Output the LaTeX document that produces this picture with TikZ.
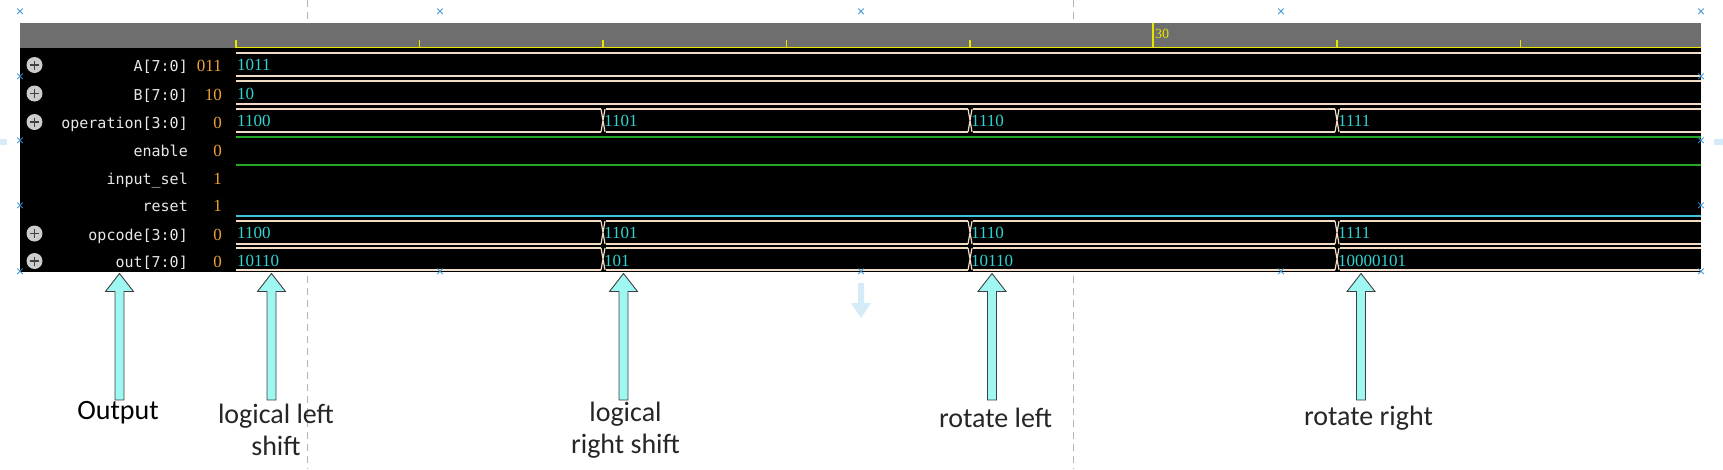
\documentclass[tikz,border=0pt]{standalone}
\usepackage{fontspec}
\setmainfont{Carlito}
\newfontfamily\sigmono{DejaVu Sans Mono}
\newfontfamily\sigserif{Liberation Serif}
\usetikzlibrary{calc}
\definecolor{hdrgray}{HTML}{6E6E6E}
\definecolor{rulery}{HTML}{E6E600}
\definecolor{nametxt}{HTML}{E8E8E8}
\definecolor{valorange}{HTML}{F0A238}
\definecolor{valcyan}{HTML}{30D2D2}
\definecolor{busbeige}{HTML}{F2DCC6}
\definecolor{lowgreen}{HTML}{22A822}
\definecolor{rstcyan}{HTML}{3CC4DA}
\definecolor{arrowfill}{HTML}{9EF7F0}
\definecolor{handleblue}{HTML}{3592D6}
\definecolor{handlefaint}{HTML}{D6EBF8}
\tikzset{signame/.style = {anchor=base east,inner sep=0pt,text=nametxt,font=\sigmono\fontsize{15}{18}\selectfont}}
\tikzset{sigval/.style = {anchor=base east,inner sep=0pt,text=valorange,font=\sigserif\fontsize{17}{20}\selectfont}}
\tikzset{busval/.style = {anchor=base west,inner sep=0pt,text=valcyan,font=\sigserif\fontsize{17}{20}\selectfont}}
\tikzset{busline/.style = {draw=busbeige,line width=1.6pt}}
\tikzset{expander/.style = {circle,fill=black!20,minimum size=16pt,inner sep=0pt}}
\tikzset{ruler/.style = {draw=rulery,line width=1.4pt}}
\tikzset{blockarrow/.style = {fill=arrowfill,draw=black!75,line width=0.9pt,line join=miter}}
\tikzset{caption/.style = {inner sep=0pt,text=black!85,font=\fontsize{28}{32}\selectfont}}
\tikzset{handle/.style = {inner sep=0pt,text=handleblue,font=\fontsize{15}{15}\selectfont}}
\tikzset{pageguide/.style = {draw=black!30,line width=1pt,dash pattern=on 7pt off 5pt}}

\begin{document}
\begin{tikzpicture}[x=1pt,y=-1pt]
  \useasboundingbox (0,0) rectangle (1723,469);

  \foreach \x in {307,1073}
    \draw[pageguide] (\x,0) -- (\x,469);

  % viewer window
  \fill[hdrgray] (20,22.5) rectangle (1701,48);
  \fill[black] (20,48) rectangle (1701,271.5);
  \draw[ruler] (236,40) -- (236,47.5) -- (1701,47.5);
  \foreach \x in {419.5,603,786.5,970,1337,1520.5}
    \draw[ruler] (\x,40) -- (\x,47.5);
  \draw[ruler] (1153,23) -- (1153,47.5);
  \node[anchor=west,inner sep=0pt,text=rulery,font=\sigserif\fontsize{14}{14}\selectfont] (t30) at (1155,33.5) {30};

  \foreach \i/\nm/\v/\b in {1/A[7:0]/011/71.5,2/B[7:0]/10/100,3/operation[3:0]/0/128.5,
      4/enable/0/156.5,5/input\_sel/1/184.5,6/reset/1/211.5,7/opcode[3:0]/0/240,8/out[7:0]/0/267.5} {
    \node[signame] (nm\i) at (188,\b) {\nm};
    \node[sigval] (sv\i) at (222,\b) {\v};
  }
  \foreach \i/\b in {1/71.5,2/100,3/128.5,7/240,8/267.5} {
    \node[expander] (ex\i) at (34.5,\b-6.5) {};
    \draw[black!75,line width=1.2pt] ($(ex\i)+(-4.5,0)$) -- ($(ex\i)+(4.5,0)$)
      ($(ex\i)+(0,-4.5)$) -- ($(ex\i)+(0,4.5)$);
  }

  % buses
  \foreach \yt/\yb in {53/76,81/104}
    \draw[busline] (236,\yt) -- (1701,\yt) (236,\yb) -- (1701,\yb);
  \foreach \yt/\yb in {109/132,221/244,248/270} {
    \draw[busline] (236,\yt) -- (1701,\yt) (236,\yb) -- (1701,\yb);
    \foreach \x in {603,970,1337} {
      \fill[black] (\x-2.5,\yt-1.5) rectangle (\x+2.5,\yb+1.5);
      \draw[busline,line width=1.2pt] (\x-2,\yt) -- (\x+2,\yb) (\x-2,\yb) -- (\x+2,\yt);
    }
  }
  \draw[lowgreen,line width=1.4pt] (236,137) -- (1701,137);
  \draw[lowgreen,line width=1.4pt] (236,165) -- (1701,165);
  \draw[rstcyan,line width=1.8pt] (236,216) -- (1701,216);

  \node[busval] (wa) at (237,70.5) {1011};
  \node[busval] (wb) at (237,99) {10};
  \foreach \r/\b in {op/126.5,oc/238.5}
    \foreach \j/\x/\v in {0/237/1100,1/604/1101,2/971/1110,3/1338/1111}
      \node[busval] (\r\j) at (\x,\b) {\v};
  \foreach \j/\x/\v in {0/237/10110,1/604/101,2/971/10110,3/1338/10000101}
    \node[busval] (ou\j) at (\x,266.5) {\v};

  % callouts
  \foreach \i/\x in {1/119.5,2/271.5,3/623.5,4/992,5/1361} {
    \coordinate (tip\i) at (\x,273.5);
    \coordinate (base\i) at (\x,400);
    \draw[blockarrow] (tip\i) -- ($(tip\i)+(14,18)$) -- ($(tip\i)+(4.5,18)$) -- ($(base\i)+(4.5,0)$)
      -- ($(base\i)+(-4.5,0)$) -- ($(tip\i)+(-4.5,18)$) -- ($(tip\i)+(-14,18)$) -- cycle;
  }
  \node[caption,text=black] (lbl1) at (118,413) {Output};
  \node[caption,align=center] (lbl2) at (276,430) {logical left\\shift};
  \node[caption,align=center] (lbl3) at (625.5,430) {logical\\right shift};
  \node[caption] (lbl4) at (995.5,418) {rotate left};
  \node[caption] (lbl5) at (1368.5,418) {rotate right};

  % selection handles
  \foreach \x/\y [count=\k] in {20/13,440/13,861/13,1281/13,1701/13,20/273,440/273,861/273,1281/273,1701/273,
      20/78,20/142,20/207,1701/78,1701/142,1701/207}
    \node[handle] (hd\k) at (\x,\y) {×};
  \fill[handlefaint] (0,139) rectangle (7,145);
  \fill[handlefaint] (1714,139) rectangle (1723,145);
  \coordinate (drag) at (861,283);
  \fill[handlefaint] ($(drag)+(-3,0)$) -- ($(drag)+(3,0)$) -- ($(drag)+(3,20)$) -- ($(drag)+(10,20)$)
    -- ($(drag)+(0,35)$) -- ($(drag)+(-10,20)$) -- ($(drag)+(-3,20)$) -- cycle;
\end{tikzpicture}
\end{document}
